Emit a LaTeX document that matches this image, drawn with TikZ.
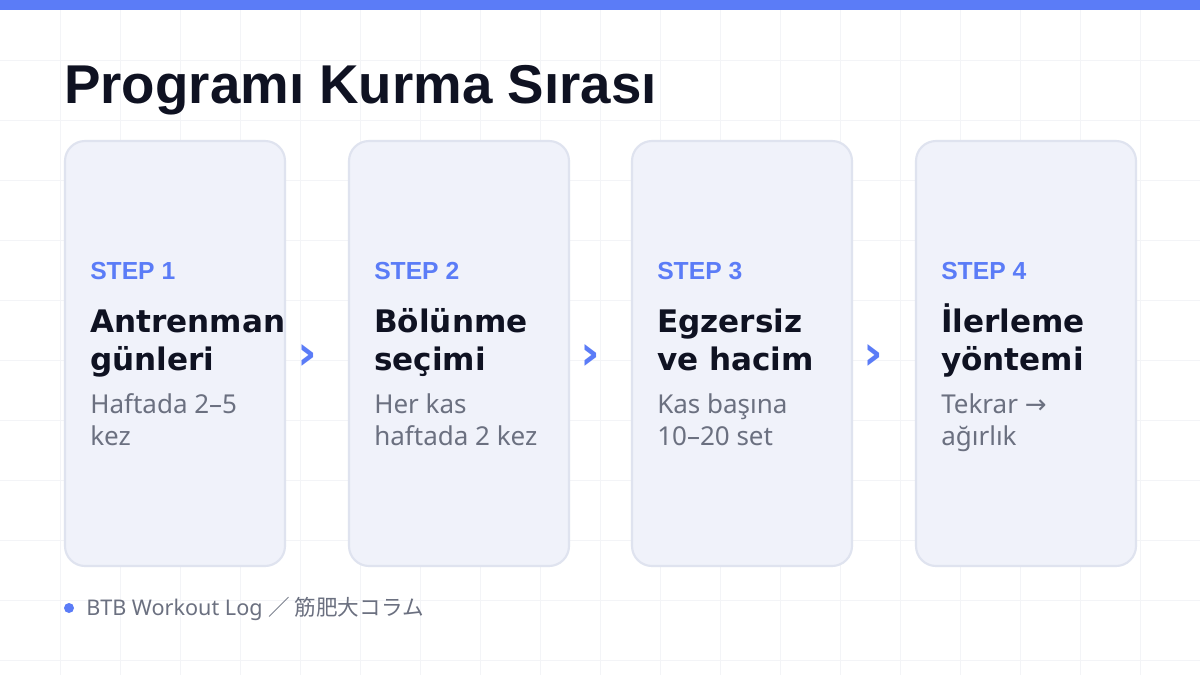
\documentclass[tikz,border=0pt]{standalone}
\usepackage{fontspec}
\setmainfont{Noto Sans}
\newfontfamily\titlefont{Liberation Sans}
\newfontfamily\headfont{DejaVu Sans}
\newfontfamily\cjkfont{Noto Sans CJK JP}
\newfontfamily\symfont{DejaVu Sans}
\definecolor{accent}{HTML}{5B7CF7}
\definecolor{ink}{HTML}{0F1222}
\definecolor{muted}{HTML}{6B7080}
\definecolor{cardfill}{HTML}{F0F2FA}
\definecolor{cardline}{HTML}{DFE3EF}
\definecolor{gridc}{HTML}{F3F4F7}
\tikzset{
  card/.style={draw=cardline, line width=1.6pt, fill=cardfill, rounded corners=15pt},
  steplabel/.style={anchor=base west, inner sep=0pt, text=accent, font=\titlefont\fontsize{18.5}{22}\selectfont\bfseries},
  steptitle/.style={anchor=base west, inner sep=0pt, text=ink, align=left, font=\headfont\fontsize{23.3}{28.5}\selectfont\bfseries},
  stepdesc/.style={anchor=base west, inner sep=0pt, text=muted, align=left, font=\fontsize{19.5}{23.5}\selectfont},
  chev/.style={inner sep=0pt, text=accent, font=\headfont\fontsize{36}{36}\selectfont\bfseries},
}
\begin{document}
\begin{tikzpicture}[x=0.75pt, y=-0.75pt]
\useasboundingbox (0,0) rectangle (1200,675);
\fill[white] (0,0) rectangle (1200,675);
\foreach \gx in {60,120,...,1140} \draw[gridc, line width=0.75pt] (\gx,0) -- (\gx,675);
\foreach \gy in {60,120,...,660} \draw[gridc, line width=0.75pt] (0,\gy) -- (1200,\gy);
\fill[accent] (0,0) rectangle (1200,10);
\node[anchor=base west, inner sep=0pt, text=ink, font=\titlefont\fontsize{41}{41}\selectfont\bfseries] (title) at (64,103) {Programı Kurma Sırası};
% cards
\foreach \i/\cx in {1/65, 2/349, 3/632, 4/916} {
  \draw[card] (\cx,141) rectangle ++(220,425);
}
\node[steplabel] (s1) at (90,279) {STEP 1};
\node[steptitle] (t1) at (90,370) {Antrenman\\günleri};
\node[stepdesc] (d1) at (90,445) {Haftada 2–5\\kez};
\node[steplabel] (s2) at (374,279) {STEP 2};
\node[steptitle] (t2) at (374,370) {Bölünme\\seçimi};
\node[stepdesc] (d2) at (374,445) {Her kas\\haftada 2 kez};
\node[steplabel] (s3) at (657,279) {STEP 3};
\node[steptitle] (t3) at (657,370) {Egzersiz\\ve hacim};
\node[stepdesc] (d3) at (657,445) {Kas başına\\10–20 set};
\node[steplabel] (s4) at (941,279) {STEP 4};
\node[steptitle] (t4) at (941,370) {İlerleme\\yöntemi};
\node[stepdesc] (d4) at (941,445) {Tekrar {\symfont →}\\ağırlık};
\node[chev] (a1) at (307,357) {›};
\node[chev] (a2) at (590,357) {›};
\node[chev] (a3) at (873,357) {›};
% footer
\fill[accent] (69,608) circle (5);
\node[anchor=base west, inner sep=0pt, text=muted, font=\fontsize{16.2}{19}\selectfont] (foot) at (86,615) {BTB Workout Log {\cjkfont ／ 筋肥大コラム}};
\end{tikzpicture}
\end{document}
